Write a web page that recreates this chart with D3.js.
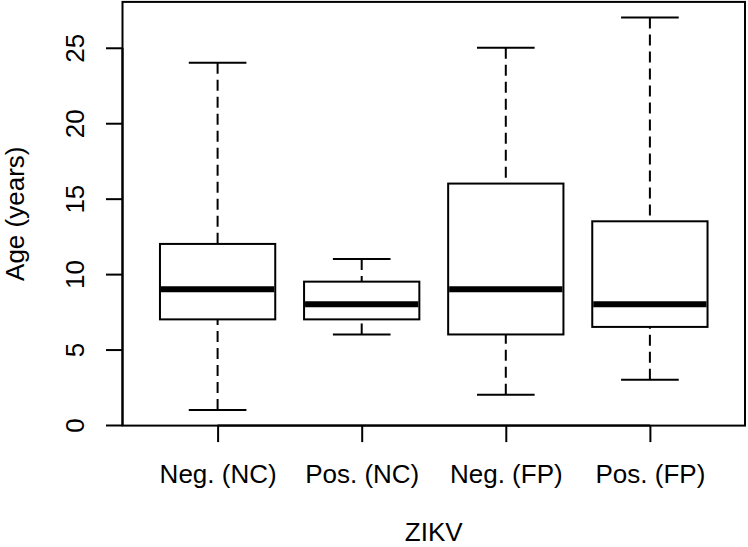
<!DOCTYPE html>
<html>
<head>
<meta charset="utf-8">
<script src="https://cdn.jsdelivr.net/npm/d3@7"></script>
<style>
  body { margin: 0; background: #fff; }
  text { font-family: "Liberation Sans", Arial, sans-serif; fill: #000; }
</style>
</head>
<body>
<script>
const groups = ['Neg. (NC)', 'Pos. (NC)', 'Neg. (FP)', 'Pos. (FP)'];
const lowWhisker = [1, 6, 2, 3];
const lowerQuartile = [7, 7, 6, 6.5];
const medians = [9, 8, 9, 8];
const upperQuartile = [12, 9.5, 16, 13.5];
const highWhisker = [24, 11, 25, 27];
const yTicks = [0, 5, 10, 15, 20, 25];

const width = 748, height = 547;
const plotLeft = 122.5, plotRight = 745, plotTop = 1.9, plotBottom = 425.6;
const fontSize = '26px';

const svg = d3.select('body').append('svg')
  .attr('width', width)
  .attr('height', height);

const x = d3.scalePoint()
  .domain(groups)
  .range([plotLeft, plotRight])
  .padding(0.66);

const y = d3.scaleLinear()
  .domain([-0.04, 28.04])
  .range([plotBottom, plotTop]);

const boxW = x.step() * 0.8;
const capW = boxW * 0.5;

const data = groups.map((g, i) => ({
  g, lo: lowWhisker[i], q1: lowerQuartile[i], med: medians[i],
  q3: upperQuartile[i], hi: highWhisker[i]
}));

// whiskers (dashed, drawn from cap towards box)
const boxes = svg.append('g').selectAll('g').data(data).join('g');
boxes.append('line')
  .attr('x1', d => x(d.g)).attr('x2', d => x(d.g))
  .attr('y1', d => y(d.hi)).attr('y2', d => y(d.q3))
  .attr('stroke', '#000').attr('stroke-width', 2).attr('stroke-dasharray', '11,6');
boxes.append('line')
  .attr('x1', d => x(d.g)).attr('x2', d => x(d.g))
  .attr('y1', d => y(d.lo)).attr('y2', d => y(d.q1))
  .attr('stroke', '#000').attr('stroke-width', 2).attr('stroke-dasharray', '11,6');
// caps
boxes.selectAll('line.cap').data(d => [d.lo, d.hi].map(v => ({ g: d.g, v })))
  .join('line').attr('class', 'cap')
  .attr('x1', d => x(d.g) - capW / 2).attr('x2', d => x(d.g) + capW / 2)
  .attr('y1', d => y(d.v)).attr('y2', d => y(d.v))
  .attr('stroke', '#000').attr('stroke-width', 2);
// boxes
boxes.append('rect')
  .attr('x', d => x(d.g) - boxW / 2)
  .attr('width', boxW)
  .attr('y', d => y(d.q3))
  .attr('height', d => y(d.q1) - y(d.q3))
  .attr('fill', 'none').attr('stroke', '#000').attr('stroke-width', 2);
// medians
boxes.append('line')
  .attr('x1', d => x(d.g) - boxW / 2 + 1).attr('x2', d => x(d.g) + boxW / 2 - 1)
  .attr('y1', d => y(d.med)).attr('y2', d => y(d.med))
  .attr('stroke', '#000').attr('stroke-width', 6);

// frame
svg.append('rect')
  .attr('x', plotLeft).attr('y', plotTop)
  .attr('width', plotRight - plotLeft).attr('height', plotBottom - plotTop)
  .attr('fill', 'none').attr('stroke', '#000').attr('stroke-width', 2);

// y axis
const yAxis = svg.append('g')
  .attr('transform', `translate(${plotLeft},0)`)
  .call(d3.axisLeft(y).tickValues(yTicks).tickSize(16.5).tickSizeOuter(0));
yAxis.select('.domain')
  .attr('d', `M0,${y(0)}V${y(25)}`)
  .attr('stroke-width', 2);
yAxis.selectAll('.tick line').attr('stroke-width', 2);
yAxis.selectAll('.tick text')
  .attr('x', 0).attr('y', 0)
  .attr('dy', null)
  .attr('transform', `translate(${84 - plotLeft},0) rotate(-90)`)
  .attr('text-anchor', 'middle')
  .style('font-size', fontSize)
  .style('font-family', '"Liberation Sans", Arial, sans-serif');

// x axis
const xAxis = svg.append('g')
  .attr('transform', `translate(0,${plotBottom})`)
  .call(d3.axisBottom(x).tickSize(16.5).tickSizeOuter(0));
xAxis.select('.domain')
  .attr('d', `M${x(groups[0])},0H${x(groups[groups.length - 1])}`)
  .attr('stroke-width', 2);
xAxis.selectAll('.tick line').attr('stroke-width', 2);
xAxis.selectAll('.tick text')
  .attr('y', 483 - plotBottom).attr('dy', null)
  .style('font-size', fontSize)
  .style('font-family', '"Liberation Sans", Arial, sans-serif');

// titles
svg.append('text')
  .attr('x', (plotLeft + plotRight) / 2).attr('y', 541)
  .attr('text-anchor', 'middle')
  .style('font-size', fontSize)
  .text('ZIKV');
svg.append('text')
  .attr('transform', `translate(24,${(plotTop + plotBottom) / 2}) rotate(-90)`)
  .attr('text-anchor', 'middle')
  .style('font-size', fontSize)
  .text('Age (years)');
</script>
</body>
</html>
